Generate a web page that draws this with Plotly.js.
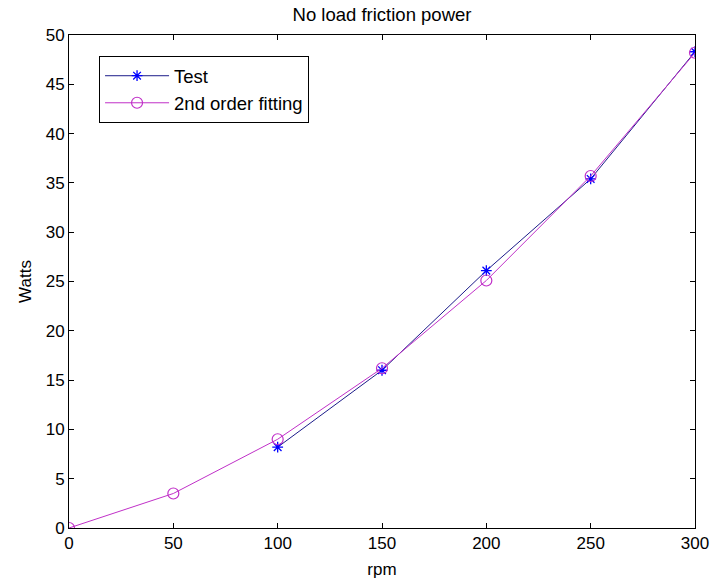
<!DOCTYPE html>
<html><head><meta charset="utf-8">
<script src="https://cdn.plot.ly/plotly-3.0.1.min.js"></script>
<style>html,body{margin:0;padding:0;background:#fff}#c{width:712px;height:584px}</style>
</head><body><div id="c"></div>
<script>
const testRpm = [100, 150, 200, 250, 300];
const testWatts = [8.2, 16.0, 26.1, 35.4, 48.3];
const fitRpm = [0, 50, 100, 150, 200, 250, 300];
const fitWatts = [0, 3.5, 9.0, 16.2, 25.1, 35.7, 48.2];
const xTicks = [0, 50, 100, 150, 200, 250, 300];
const yTicks = [0, 5, 10, 15, 20, 25, 30, 35, 40, 45, 50];

const font = {family: 'Liberation Sans, Arial, sans-serif', size: 17, color: '#000'};
const legendFont = {family: font.family, size: 18.5, color: '#000'};
const data = [
  {x: testRpm, y: testWatts, name: 'Test', mode: 'lines+markers',
   line: {color: '#1c1c8a', width: 1},
   marker: {symbol: 'asterisk-open', size: 9, color: '#0000ff', line: {color: '#0000ff', width: 1.3}}},
  {x: fitRpm, y: fitWatts, name: '2nd order fitting', mode: 'lines+markers',
   line: {color: '#c030c8', width: 1},
   marker: {symbol: 'circle-open', size: 11, color: '#c030c8', line: {color: '#c030c8', width: 1.2}}}
];
const axisCommon = {showline: true, linecolor: '#000', linewidth: 1, mirror: 'ticks',
  ticks: 'inside', ticklen: 5, tickcolor: '#000', showgrid: false, zeroline: false,
  tickfont: font};
const layout = {
  width: 712, height: 584,
  margin: {l: 69, r: 17, t: 35, b: 56},
  paper_bgcolor: '#fff', plot_bgcolor: '#fff',
  font: font,
  title: {text: 'No load friction power', font: legendFont,
          x: 0.5, xref: 'paper', y: 1 - 15/584, yanchor: 'middle'},
  xaxis: Object.assign({}, axisCommon, {range: [0, 300], tickvals: xTicks,
    title: {text: 'rpm', font: font, standoff: 10}}),
  yaxis: Object.assign({}, axisCommon, {range: [0, 50], tickvals: yTicks,
    title: {text: 'Watts', font: font, standoff: 9}}),
  showlegend: true,
  legend: {x: 0.048, y: 0.957, xanchor: 'left', yanchor: 'top', bgcolor: '#fff',
    bordercolor: '#000', borderwidth: 1, font: legendFont, tracegroupgap: 0, itemwidth: 64}
};
Plotly.newPlot('c', data, layout, {displayModeBar: false, staticPlot: true});
</script></body></html>
